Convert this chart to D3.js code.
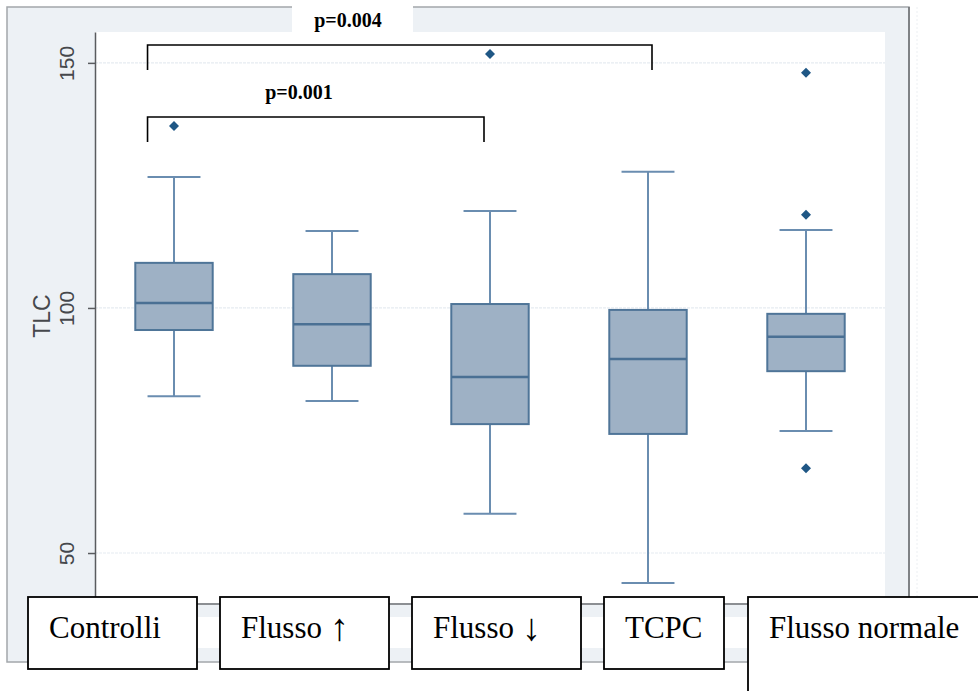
<!DOCTYPE html>
<html>
<head>
<meta charset="utf-8">
<script src="https://cdn.jsdelivr.net/npm/d3@7"></script>
<style>
  body { margin: 0; background: #fff; }
  svg { display: block; }
</style>
</head>
<body>
<div id="chart"></div>
<script>
// Groups and box statistics (TLC)
const groups = ['Controlli', 'Flusso ↑', 'Flusso ↓', 'TCPC', 'Flusso normale'];
const whiskerLow = [82.0, 81.0, 58.0, 43.9, 74.9];
const q1 = [95.5, 88.2, 76.3, 74.3, 87.1];
const median = [101.0, 96.7, 85.9, 89.6, 94.1];
const q3 = [109.2, 106.9, 100.8, 99.6, 98.8];
const whiskerHigh = [126.7, 115.7, 119.8, 127.8, 115.9];
const outliers = [
    { group: 'Controlli', value: 137.1 },
    { group: 'Flusso ↓', value: 151.8 },
    { group: 'Flusso normale', value: 148.0 },
    { group: 'Flusso normale', value: 119.0 },
    { group: 'Flusso normale', value: 67.3 }
];
const yTicks = [50, 100, 150];
const yLabel = 'TLC';
// Significance brackets
const comparisons = [
    { from: 'Controlli', to: 'TCPC', label: 'p=0.004', level: 0 },
    { from: 'Controlli', to: 'Flusso ↓', label: 'p=0.001', level: 1 }
];

const config = {
    width: 978, height: 691,
    panel: { x: 7, y: 7, w: 902, h: 655 },
    plot: { left: 95, right: 885, top: 32, bottom: 604 },
    // boxes pasted over the x axis labels
    labelBoxes: [
        { x: 28, w: 169 }, { x: 220, w: 169 }, { x: 412, w: 169 },
        { x: 604, w: 120 }, { x: 748, w: 250 }
    ],
    labelBoxTop: 597, labelBoxH: 72,
    // white patches behind the p values, and bracket geometry
    brackets: [
        { y: 45, box: { x: 292, y: 0, w: 121, h: 45 }, tx: 348, ty: 27, dx: 4 },
        { y: 117, box: { x: 245, y: 76, w: 120, h: 41 }, tx: 299, ty: 99, dx: -6 }
    ],
    bracketDrop: 25
};

const serif = "'Liberation Serif', 'Times New Roman', serif";
const sans = "'Liberation Sans', Arial, sans-serif";

const svg = d3.select('#chart').append('svg')
    .attr('width', config.width)
    .attr('height', config.height);

const p = config.plot;

const yScale = d3.scaleLinear()
    .domain([39.6, 156.3])
    .range([p.bottom, p.top]);

const xScale = d3.scaleBand()
    .domain(groups)
    .range([p.left, p.right])
    .paddingInner(0)
    .paddingOuter(0);

const boxW = xScale.bandwidth() * 0.49;
const capW = xScale.bandwidth() * 0.335;
const cx = g => xScale(g) + xScale.bandwidth() / 2;

// Outer graph region
const pn = config.panel;
svg.append('rect')
    .attr('x', pn.x).attr('y', pn.y)
    .attr('width', pn.w).attr('height', pn.h)
    .attr('fill', '#edf1f5')
    .attr('stroke', '#a3a7ab')
    .attr('stroke-width', 1.5);
svg.append('line')
    .attr('x1', pn.x + pn.w).attr('x2', pn.x + pn.w)
    .attr('y1', pn.y).attr('y2', pn.y + pn.h)
    .attr('stroke', '#6d6f72').attr('stroke-width', 1.5);
svg.append('line')
    .attr('x1', 917).attr('x2', 917)
    .attr('y1', pn.y).attr('y2', pn.y + pn.h)
    .attr('stroke', '#eceff2').attr('stroke-width', 1)
    .attr('stroke-dasharray', '2,2');

// White plot region
svg.append('rect')
    .attr('x', p.left).attr('y', p.top)
    .attr('width', p.right - p.left).attr('height', p.bottom - p.top)
    .attr('fill', '#ffffff');
svg.append('rect')
    .attr('x', p.left).attr('y', 617)
    .attr('width', p.right - p.left).attr('height', 31)
    .attr('fill', '#ffffff');

// Grid lines
svg.append('g').selectAll('line')
    .data(yTicks)
    .join('line')
    .attr('x1', p.left).attr('x2', p.right)
    .attr('y1', d => yScale(d)).attr('y2', d => yScale(d))
    .attr('stroke', '#e6ecf1')
    .attr('stroke-width', 1.2)
    .attr('stroke-dasharray', '3,1');

// x axis line
svg.append('line')
    .attr('x1', p.left).attr('x2', p.right)
    .attr('y1', p.bottom).attr('y2', p.bottom)
    .attr('stroke', '#8c8f93').attr('stroke-width', 2);

// y axis
const yAxis = d3.axisLeft(yScale)
    .tickValues(yTicks)
    .tickSize(7)
    .tickSizeOuter(0);

const yAxisG = svg.append('g')
    .attr('transform', `translate(${p.left},0)`)
    .call(yAxis);
yAxisG.select('.domain')
    .attr('stroke', '#5a5c5f').attr('stroke-width', 1.5);
yAxisG.selectAll('.tick line')
    .attr('stroke', '#5a5c5f').attr('stroke-width', 1.5);
yAxisG.selectAll('.tick text')
    .attr('transform', 'rotate(-90)')
    .attr('x', 0).attr('y', -21).attr('dy', 0)
    .attr('text-anchor', 'middle')
    .attr('font-family', sans)
    .attr('font-size', 21)
    .attr('fill', '#46484c');

svg.append('text')
    .attr('transform', `translate(50,316) rotate(-90)`)
    .attr('text-anchor', 'middle')
    .attr('font-family', sans)
    .attr('font-size', 23)
    .attr('fill', '#46484c')
    .text(yLabel);

// Box plots
const boxData = groups.map((g, i) => ({
    group: g, lo: whiskerLow[i], q1: q1[i], med: median[i], q3: q3[i], hi: whiskerHigh[i]
}));

const boxes = svg.append('g').attr('class', 'boxes')
    .selectAll('g')
    .data(boxData)
    .join('g');

const whiskerColor = '#6a8db0';
boxes.append('line')
    .attr('x1', d => cx(d.group)).attr('x2', d => cx(d.group))
    .attr('y1', d => yScale(d.hi)).attr('y2', d => yScale(d.q3))
    .attr('stroke', whiskerColor).attr('stroke-width', 2);
boxes.append('line')
    .attr('x1', d => cx(d.group)).attr('x2', d => cx(d.group))
    .attr('y1', d => yScale(d.q1)).attr('y2', d => yScale(d.lo))
    .attr('stroke', whiskerColor).attr('stroke-width', 2);
boxes.append('line')
    .attr('x1', d => cx(d.group) - capW / 2).attr('x2', d => cx(d.group) + capW / 2)
    .attr('y1', d => yScale(d.hi)).attr('y2', d => yScale(d.hi))
    .attr('stroke', whiskerColor).attr('stroke-width', 2);
boxes.append('line')
    .attr('x1', d => cx(d.group) - capW / 2).attr('x2', d => cx(d.group) + capW / 2)
    .attr('y1', d => yScale(d.lo)).attr('y2', d => yScale(d.lo))
    .attr('stroke', whiskerColor).attr('stroke-width', 2);
boxes.append('rect')
    .attr('x', d => cx(d.group) - boxW / 2)
    .attr('y', d => yScale(d.q3))
    .attr('width', boxW)
    .attr('height', d => yScale(d.q1) - yScale(d.q3))
    .attr('fill', '#9eb1c5')
    .attr('stroke', '#4f7598')
    .attr('stroke-width', 2);
boxes.append('line')
    .attr('x1', d => cx(d.group) - boxW / 2).attr('x2', d => cx(d.group) + boxW / 2)
    .attr('y1', d => yScale(d.med)).attr('y2', d => yScale(d.med))
    .attr('stroke', '#4a7094').attr('stroke-width', 2.5);

// Outliers (diamonds)
svg.append('g').selectAll('path')
    .data(outliers)
    .join('path')
    .attr('d', d3.symbol(d3.symbolDiamond2, 64))
    .attr('transform', d => `translate(${cx(d.group)},${yScale(d.value)})`)
    .attr('fill', '#1f5785');

// Significance brackets
comparisons.forEach(c => {
    const b = config.brackets[c.level];
    svg.append('rect')
        .attr('x', b.box.x).attr('y', b.box.y)
        .attr('width', b.box.w).attr('height', b.box.h)
        .attr('fill', '#ffffff');
    const x1 = cx(c.from) - capW / 2;
    const x2 = cx(c.to) + b.dx;
    svg.append('path')
        .attr('d', `M${x1},${b.y + config.bracketDrop}V${b.y}H${x2}V${b.y + config.bracketDrop}`)
        .attr('fill', 'none')
        .attr('stroke', '#000')
        .attr('stroke-width', 1.6);
    svg.append('text')
        .attr('x', b.tx)
        .attr('y', b.ty)
        .attr('text-anchor', 'middle')
        .attr('font-family', serif)
        .attr('font-weight', 'bold')
        .attr('font-size', 20)
        .attr('fill', '#000')
        .text(c.label);
});

// Category label boxes
const lab = svg.append('g').selectAll('g')
    .data(groups)
    .join('g');
lab.append('rect')
    .attr('x', (d, i) => config.labelBoxes[i].x)
    .attr('y', config.labelBoxTop)
    .attr('width', (d, i) => config.labelBoxes[i].w)
    .attr('height', (d, i) => i === groups.length - 1 ? 120 : config.labelBoxH)
    .attr('fill', '#ffffff')
    .attr('stroke', '#000')
    .attr('stroke-width', 1.8);
const labText = lab.append('text')
    .attr('x', (d, i) => config.labelBoxes[i].x + 21)
    .attr('y', 638)
    .attr('font-family', serif)
    .attr('font-size', 31)
    .attr('fill', '#000');
// arrows are drawn a bit larger, as in the original
labText.each(function (d) {
    const t = d3.select(this);
    d.split(/([↑↓])/).filter(s => s.length).forEach(part => {
        const isArrow = /[↑↓]/.test(part);
        t.append('tspan')
            .attr('font-size', isArrow ? 38 : null)
            .attr('dy', isArrow ? 2 : null)
            .text(part);
    });
});
</script>
</body>
</html>
